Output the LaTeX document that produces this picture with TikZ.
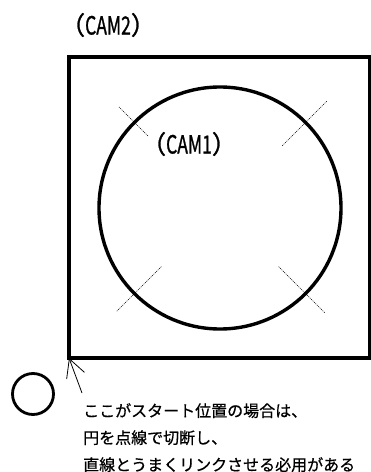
\documentclass[tikz,border=0pt]{standalone}
\usepackage{fontspec}
\usepackage{graphicx}
\newfontfamily\jp[FakeBold=0.6]{Noto Sans CJK JP}
\newfontfamily\jpcam[FakeBold=1.2]{Noto Sans CJK JP}
\usetikzlibrary{arrows.meta,calc}
\tikzset{
  thickline/.style={draw=black, line width=3.4pt},
  dotline/.style={draw=black, line width=0.6pt, dash pattern=on 1pt off 1pt},
  camlabel/.style={font=\jpcam\fontsize{25}{27}\selectfont, inner sep=0pt},
  notetext/.style={font=\jp\fontsize{16}{27}\selectfont, inner sep=0pt, align=left, anchor=north west},
  pointer/.style={draw=black, line width=0.8pt, -{Straight Barb[length=18pt, width=19pt, line width=0.8pt]}}
}
\begin{document}
\begin{tikzpicture}[x=1pt, y=-1pt]
  \useasboundingbox (0,0) rectangle (371,472);
  % outer square (CAM2)
  \node[thickline, rectangle, minimum width=301pt, minimum height=301pt, outer sep=0pt, inner sep=0pt] (cam2box) at (219.5,207.5) {};
  % inner circle (CAM1)
  \node[thickline, circle, minimum size=242pt, outer sep=0pt, inner sep=0pt] (cam1circle) at (220,208) {};
  % dotted radial cut marks
  \draw[dotline] ($(cam1circle.center)+(225:102)$) coordinate (m1a) -- ($(cam1circle.center)+(225:144)$) coordinate (m1b);
  \draw[dotline] ($(cam1circle.center)+(315:88)$) coordinate (m2a) -- ($(cam1circle.center)+(315:151)$) coordinate (m2b);
  \draw[dotline] ($(cam1circle.center)+(135:83)$) coordinate (m3a) -- ($(cam1circle.center)+(135:147)$) coordinate (m3b);
  \draw[dotline] ($(cam1circle.center)+(45:83)$) coordinate (m4a) -- ($(cam1circle.center)+(45:148)$) coordinate (m4b);
  % labels
  \node[camlabel] (cam2label) at (108,25) {（\scalebox{0.7}[1]{CAM2}）};
  \node[camlabel] (cam1label) at (189,144) {（\scalebox{0.7}[1]{CAM1}）};
  % small start circle
  \node[draw=black, line width=2.8pt, circle, minimum size=41pt, inner sep=0pt, outer sep=0pt] (startcircle) at (33,394) {};
  % pointer arrow to the corner
  \coordinate (tail) at (82,393);
  \draw[pointer] (tail) -- (cam2box.south west);
  % note text
  \node[notetext] (note) at (83,403) {ここがスタート位置の場合は、\\円を点線で切断し、\\直線とうまくリンクさせる必用がある};
\end{tikzpicture}
\end{document}
